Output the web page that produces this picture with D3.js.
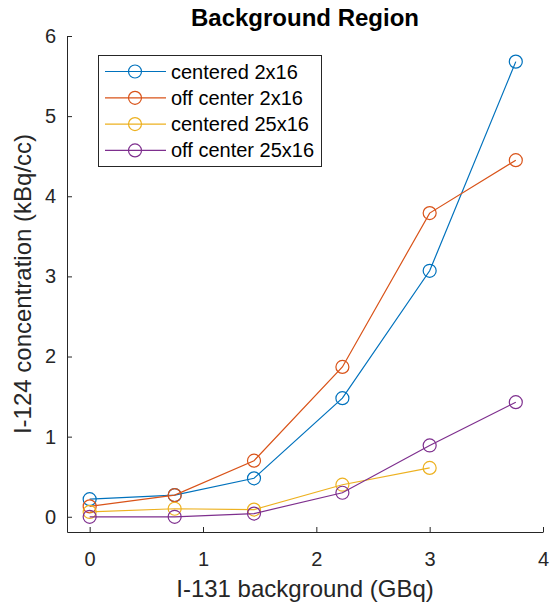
<!DOCTYPE html>
<html>
<head>
<meta charset="utf-8">
<script src="https://cdn.jsdelivr.net/npm/d3@7"></script>
<style>
body { margin: 0; background: #fff; }
svg { font-family: "Liberation Sans", Arial, sans-serif; }
</style>
</head>
<body>
<script>
var xVals = [0, 0.75, 1.45, 2.23, 3.0, 3.76];
var names = ["centered 2x16", "off center 2x16", "centered 25x16", "off center 25x16"];
var colors = ["#0072BD", "#D95319", "#EDB120", "#7E2F8E"];
var centered2 = [0.22, 0.27, 0.48, 1.48, 3.07, 5.68];
var offcenter2 = [0.13, 0.27, 0.70, 1.87, 3.79, 4.45];
var centered25 = [0.06, 0.10, 0.09, 0.40, 0.61];
var offcenter25 = [0.0, 0.0, 0.04, 0.30, 0.89, 1.43];
var xTicks = [0, 1, 2, 3, 4];
var yTicks = [0, 1, 2, 3, 4, 5, 6];

var series = [centered2, offcenter2, centered25, offcenter25];

var W = 551, H = 609;
var mLeft = 67, mRight = 543, mTop = 36, mBottom = 532;

var svg = d3.select("body").append("svg")
  .attr("width", W)
  .attr("height", H)

var x = d3.scaleLinear().domain([-0.2, 4]).range([mLeft, mRight])
var y = d3.scaleLinear().domain([-0.19, 6]).range([mBottom, mTop])

var axisColor = "#262626"

// x axis
var gx = svg.append("g")
  .attr("transform", "translate(0," + mBottom + ")")
  .call(d3.axisBottom(x).tickValues(xTicks).tickSizeInner(-5).tickSizeOuter(0).tickPadding(20).tickFormat(d3.format("d")))
gx.select(".domain").attr("stroke", axisColor)
gx.selectAll(".tick line").attr("stroke", axisColor)
gx.selectAll("text").attr("font-size", 20).attr("fill", axisColor).attr("font-family", "Liberation Sans, Arial, sans-serif")

// y axis
var gy = svg.append("g")
  .attr("transform", "translate(" + mLeft + ",0)")
  .call(d3.axisLeft(y).tickValues(yTicks).tickSizeInner(-5).tickSizeOuter(0).tickPadding(11).tickFormat(d3.format("d")))
gy.select(".domain").attr("stroke", axisColor)
gy.selectAll(".tick line").attr("stroke", axisColor)
gy.selectAll("text").attr("font-size", 20).attr("fill", axisColor).attr("font-family", "Liberation Sans, Arial, sans-serif")

var line = d3.line()
  .x((d, i) => x(xVals[i]))
  .y(d => y(d))

series.forEach(function (s, k) {
  svg.append("path")
    .datum(s)
    .attr("d", line)
    .attr("fill", "none")
    .attr("stroke", colors[k])
    .attr("stroke-width", 1.2)

  svg.selectAll(".m" + k)
    .data(s)
    .enter()
    .append("circle")
    .attr("cx", (d, i) => x(xVals[i]))
    .attr("cy", d => y(d))
    .attr("r", 6.5)
    .attr("fill", "none")
    .attr("stroke", colors[k])
    .attr("stroke-width", 1.2)
})

// title and labels
svg.append("text")
  .text("Background Region")
  .attr("x", (mLeft + mRight) / 2)
  .attr("y", 26)
  .attr("text-anchor", "middle")
  .attr("font-size", 24)
  .attr("font-weight", "bold")
  .attr("fill", "#000")

svg.append("text")
  .text("I-131 background (GBq)")
  .attr("x", (mLeft + mRight) / 2)
  .attr("y", 597)
  .attr("text-anchor", "middle")
  .attr("font-size", 24)
  .attr("fill", axisColor)

svg.append("text")
  .text("I-124 concentration (kBq/cc)")
  .attr("transform", "translate(31," + (mTop + mBottom) / 2 + ") rotate(-90)")
  .attr("text-anchor", "middle")
  .attr("font-size", 24)
  .attr("fill", axisColor)

// legend
var lg = svg.append("g")
lg.append("rect")
  .attr("x", 98.5)
  .attr("y", 55.5)
  .attr("width", 223)
  .attr("height", 111)
  .attr("fill", "#fff")
  .attr("stroke", axisColor)
  .attr("stroke-width", 1)

names.forEach(function (n, k) {
  var ly = 71.5 + k * 26.3
  lg.append("line")
    .attr("x1", 105).attr("x2", 166)
    .attr("y1", ly).attr("y2", ly)
    .attr("stroke", colors[k])
    .attr("stroke-width", 1.2)
  lg.append("circle")
    .attr("cx", 135).attr("cy", ly)
    .attr("r", 6.5)
    .attr("fill", "none")
    .attr("stroke", colors[k])
    .attr("stroke-width", 1.2)
  lg.append("text")
    .text(n)
    .attr("x", 171)
    .attr("y", ly + 7)
    .attr("font-size", 20)
    .attr("fill", "#000")
})
</script>
</body>
</html>
